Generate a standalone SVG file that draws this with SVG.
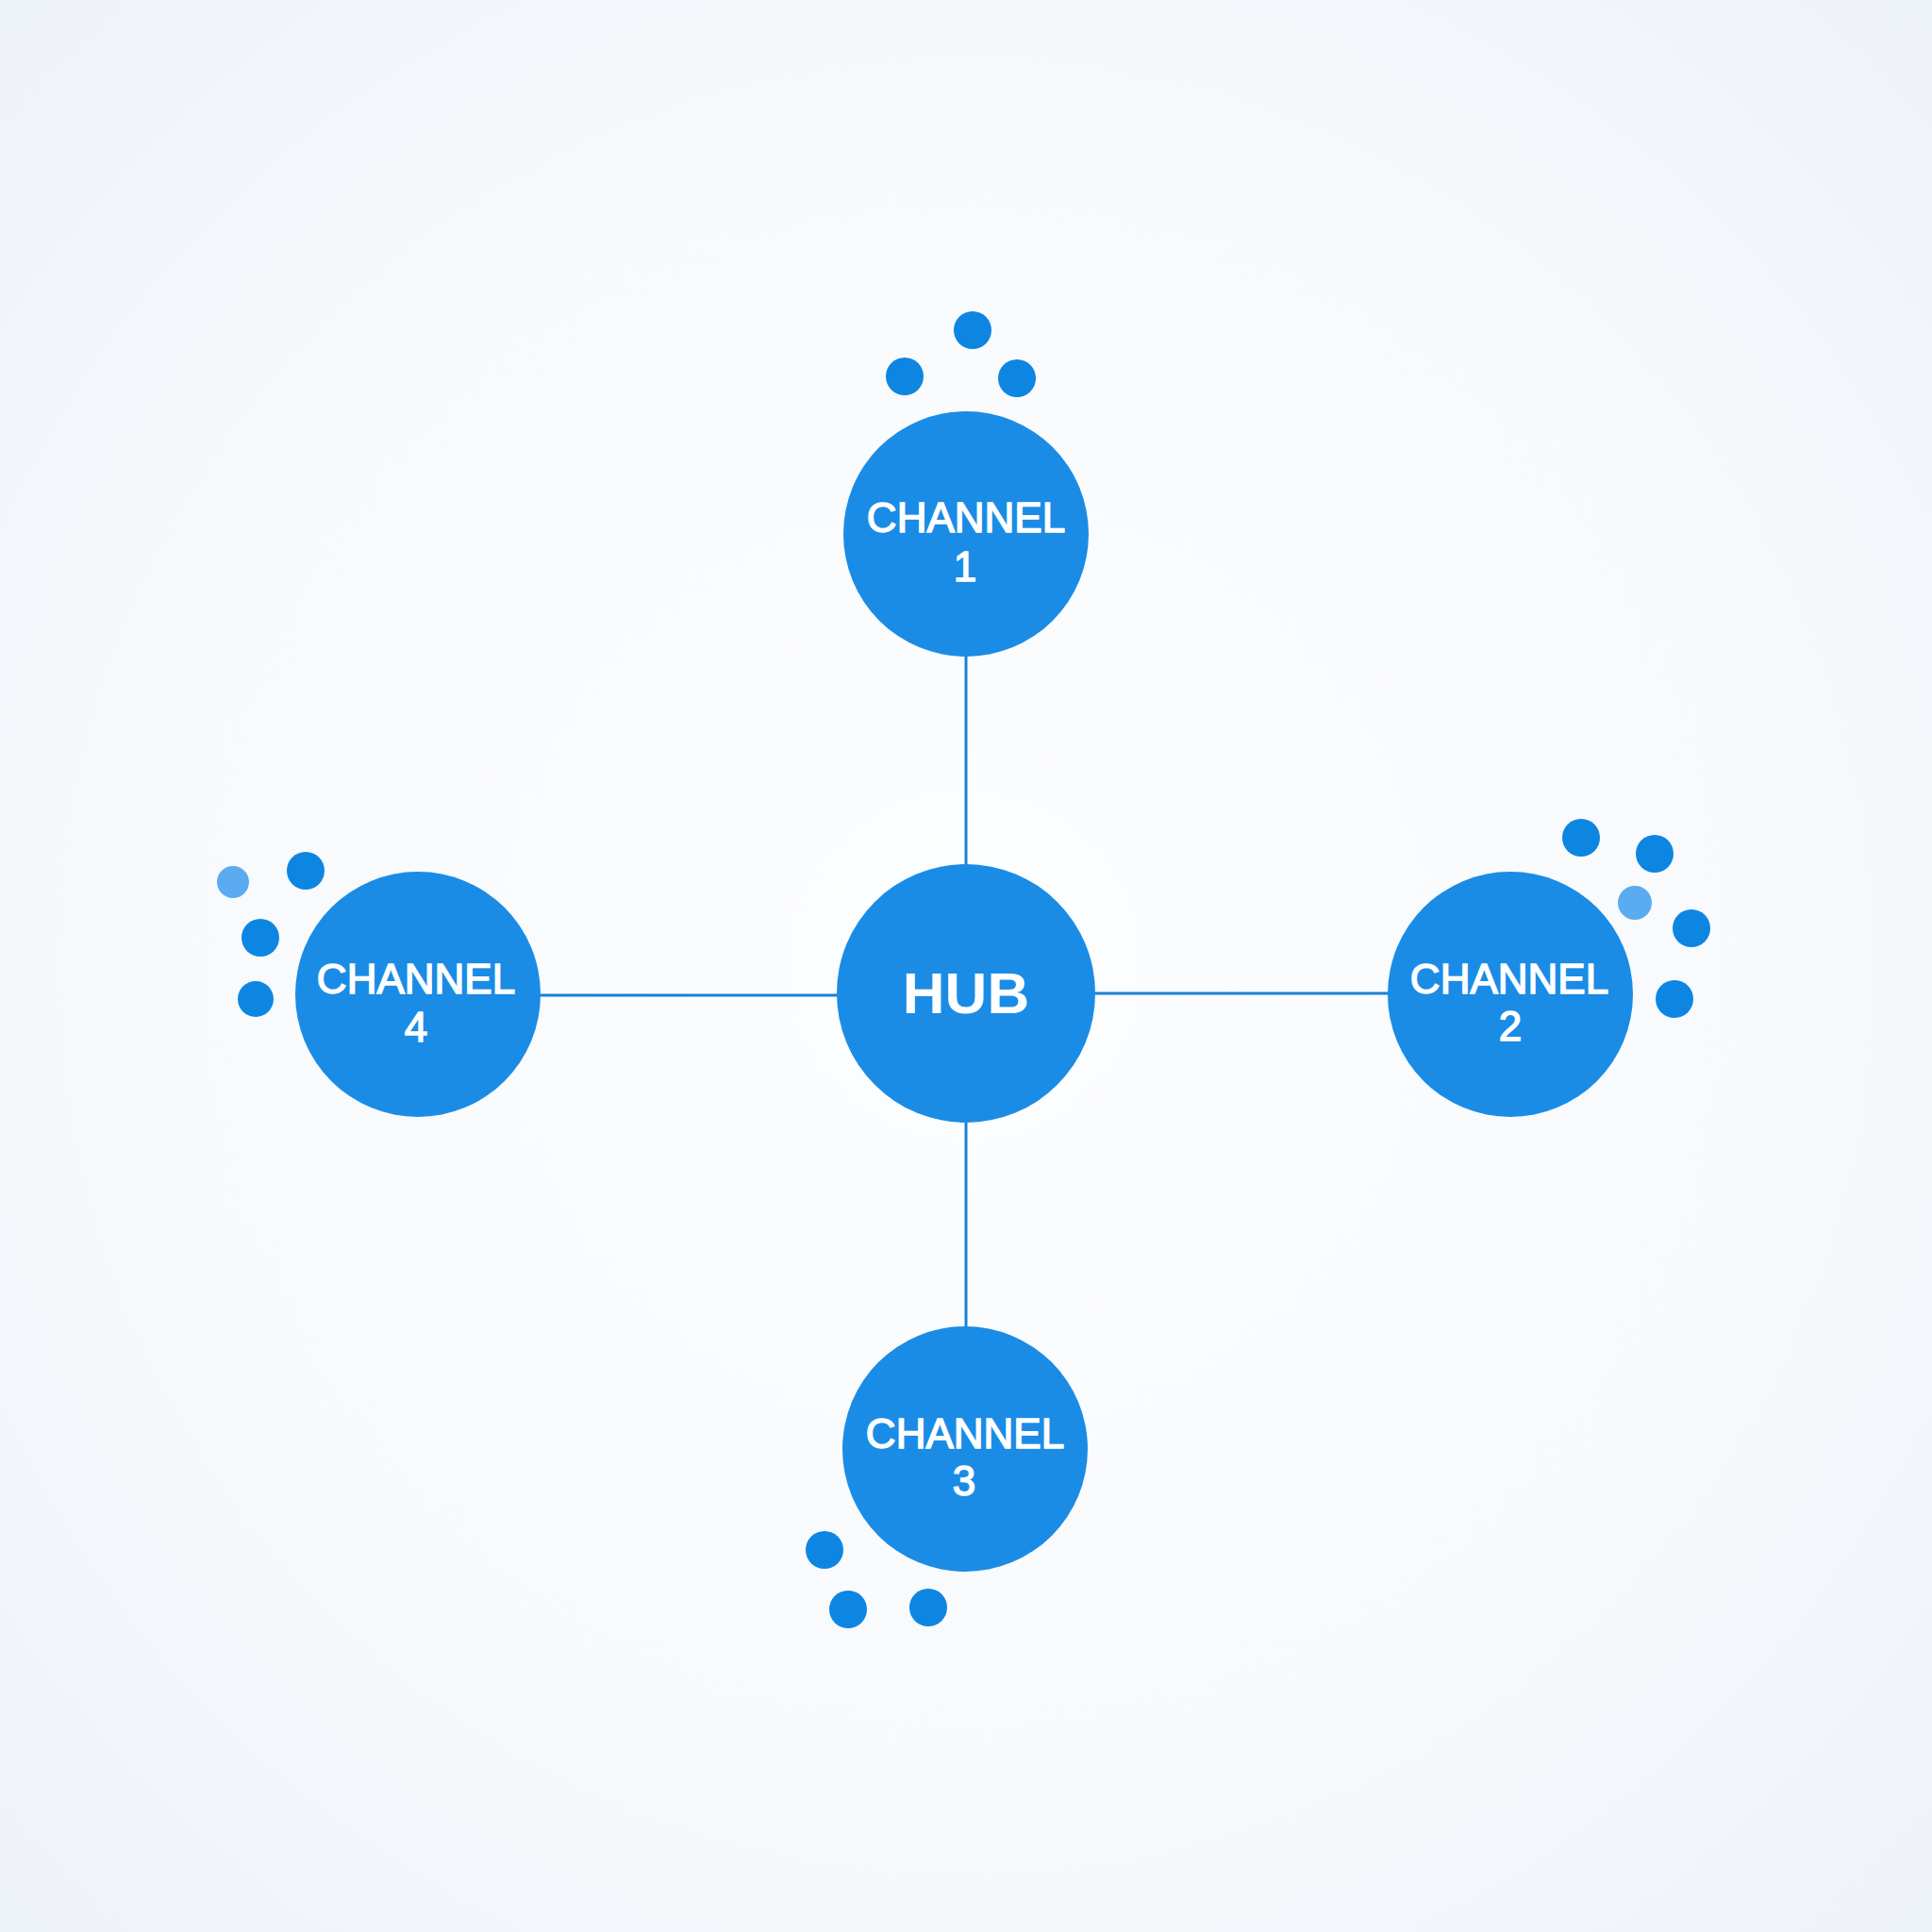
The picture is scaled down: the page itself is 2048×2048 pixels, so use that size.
<svg xmlns="http://www.w3.org/2000/svg" width="2048" height="2048" viewBox="0 0 2048 2048">
<defs>
<radialGradient id="bg" cx="50%" cy="50%" r="72%">
<stop offset="0" stop-color="#fdfeff"/>
<stop offset="0.6" stop-color="#f7f9fc"/>
<stop offset="1" stop-color="#edf2f8"/>
</radialGradient>
<style>
.node{fill:#1a8ce6}
.dot{fill:#0d86e2}
.dotl{fill:#5aabef}
.lbl{fill:#ffffff;stroke:#ffffff;stroke-width:1.5;font-family:"Liberation Sans",Arial,sans-serif;font-size:44px;text-anchor:middle}
.hub{fill:#ffffff;font-family:"Liberation Sans",Arial,sans-serif;font-size:62px;font-weight:bold;text-anchor:middle}
.edge{stroke:#1a80d4;stroke-width:3;fill:none}
</style>
</defs>
<rect x="0" y="0" width="2048" height="2048" fill="url(#bg)"/>
<g id="connectors">
<line class="edge" x1="1024" y1="692" x2="1024" y2="920"/>
<line class="edge" x1="1024" y1="1186" x2="1024" y2="1409"/>
<line class="edge" x1="570" y1="1055" x2="889" y2="1055"/>
<line class="edge" x1="1160" y1="1053" x2="1474" y2="1053"/>
</g>
<g id="hub">
<circle class="node" cx="1024" cy="1053" r="137"/>
<text class="hub" x="1024" y="1074">HUB</text>
</g>
<g id="channel1">
<circle class="node" cx="1024" cy="566" r="130"/>
<text class="lbl" x="1024" y="564">CHANNEL</text>
<text class="lbl" x="1023" y="616">1</text>
<circle class="dot" cx="1031" cy="350" r="20"/>
<circle class="dot" cx="959" cy="399" r="20"/>
<circle class="dot" cx="1078" cy="401" r="20"/>
</g>
<g id="channel2">
<circle class="node" cx="1601" cy="1054" r="130"/>
<text class="lbl" x="1600" y="1053">CHANNEL</text>
<text class="lbl" x="1601" y="1103">2</text>
<circle class="dot" cx="1676" cy="888" r="20"/>
<circle class="dot" cx="1754" cy="905" r="20"/>
<circle class="dotl" cx="1733" cy="957" r="18"/>
<circle class="dot" cx="1793" cy="984" r="20"/>
<circle class="dot" cx="1775" cy="1059" r="20"/>
</g>
<g id="channel3">
<circle class="node" cx="1023" cy="1536" r="130"/>
<text class="lbl" x="1023" y="1535">CHANNEL</text>
<text class="lbl" x="1022" y="1585">3</text>
<circle class="dot" cx="874" cy="1643" r="20"/>
<circle class="dot" cx="899" cy="1706" r="20"/>
<circle class="dot" cx="984" cy="1704" r="20"/>
</g>
<g id="channel4">
<circle class="node" cx="443" cy="1054" r="130"/>
<text class="lbl" x="441" y="1053">CHANNEL</text>
<text class="lbl" x="441" y="1104">4</text>
<circle class="dotl" cx="247" cy="935" r="17"/>
<circle class="dot" cx="324" cy="923" r="20"/>
<circle class="dot" cx="276" cy="994" r="20"/>
<circle class="dot" cx="271" cy="1059" r="19"/>
</g>
</svg>
